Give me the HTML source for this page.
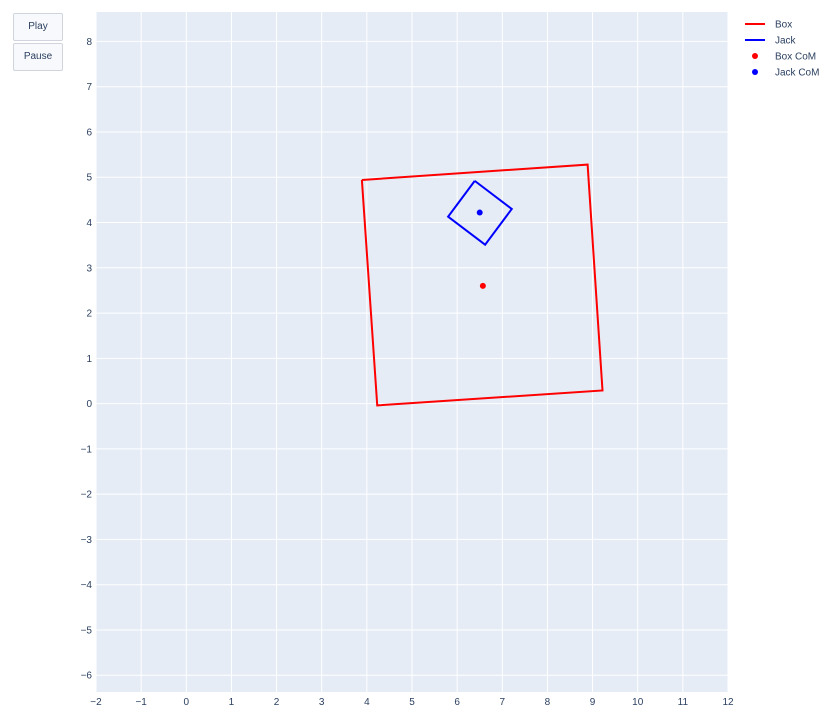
<!DOCTYPE html>
<html><head><meta charset="utf-8"><style>
body{margin:0;background:#fff;font-family:"Liberation Sans",sans-serif;}
.btn{position:absolute;left:13px;width:50px;height:28px;border:1px solid #d0d4dc;background:#f8f9fc;border-radius:2px;font-size:10px;color:#2a3f5f;text-align:center;line-height:26px;box-sizing:border-box;}
</style></head><body>
<div class="btn" style="top:13px">Play</div>
<div class="btn" style="top:43px">Pause</div>
<svg id="c" width="828" height="718" style="position:absolute;left:0;top:0;z-index:-1"></svg>
<script>
const xTicks=[-2,-1,0,1,2,3,4,5,6,7,8,9,10,11,12];
const yTicks=[-6,-5,-4,-3,-2,-1,0,1,2,3,4,5,6,7,8];
const boxX=[3.89,8.89,9.22,4.23,3.89];
const boxY=[4.94,5.28,0.29,-0.04,4.94];
const jackX=[6.39,7.21,6.62,5.80,6.39];
const jackY=[4.92,4.30,3.51,4.13,4.92];
const boxCoM=[6.57,2.60];
const jackCoM=[6.50,4.22];
const L=96,R=728,T=12,B=692,xmin=-2,xmax=12,ymin=-6.37,ymax=8.65;
const sx=v=>L+(v-xmin)/(xmax-xmin)*(R-L);
const sy=v=>B-(v-ymin)/(ymax-ymin)*(B-T);
const svg=document.getElementById('c');const NS='http://www.w3.org/2000/svg';
function el(t,a,p){const e=document.createElementNS(NS,t);for(const k in a)e.setAttribute(k,a[k]);(p||svg).appendChild(e);return e;}
const bg=el('rect',{x:L,y:T,width:R-L,height:B-T,fill:'#e5ecf6'});


xTicks.forEach(v=>{const g=el('line',{x1:sx(v),x2:sx(v),y1:T,y2:B,stroke:'#fff','stroke-width':1});


const t=el('text',{x:sx(v),y:705,'font-size':10,fill:'#2a3f5f','text-anchor':'middle'});t.textContent=v<0?'\u2212'+(-v):v;

});
yTicks.forEach(v=>{const g=el('line',{x1:L,x2:R,y1:sy(v),y2:sy(v),stroke:'#fff','stroke-width':1});


const t=el('text',{x:92,y:sy(v)+3.5,'font-size':10,fill:'#2a3f5f','text-anchor':'end'});t.textContent=v<0?'\u2212'+(-v):v;

});
const pts=(xs,ys)=>xs.map((x,i)=>sx(x)+','+sy(ys[i])).join(' ');
const b=el('polyline',{points:pts(boxX,boxY),fill:'none',stroke:'#ff0000','stroke-width':2});


const j=el('polyline',{points:pts(jackX,jackY),fill:'none',stroke:'#0000ff','stroke-width':2});


const c1=el('circle',{cx:sx(boxCoM[0]),cy:sy(boxCoM[1]),r:3,fill:'#ff0000'});


const c2=el('circle',{cx:sx(jackCoM[0]),cy:sy(jackCoM[1]),r:3,fill:'#0000ff'});


const leg=[['Box','#ff0000','line'],['Jack','#0000ff','line'],['Box CoM','#ff0000','dot'],['Jack CoM','#0000ff','dot']];
leg.forEach((d,i)=>{const y=24+i*16;const g=el('g',{});


if(d[2]=='line')el('line',{x1:745,x2:765,y1:y,y2:y,stroke:d[1],'stroke-width':2},g);else el('circle',{cx:755,cy:y,r:3,fill:d[1]},g);
const t=el('text',{x:775,y:y+3.5,'font-size':10,fill:'#2a3f5f'},g);t.textContent=d[0];});
</script>
</body></html>
